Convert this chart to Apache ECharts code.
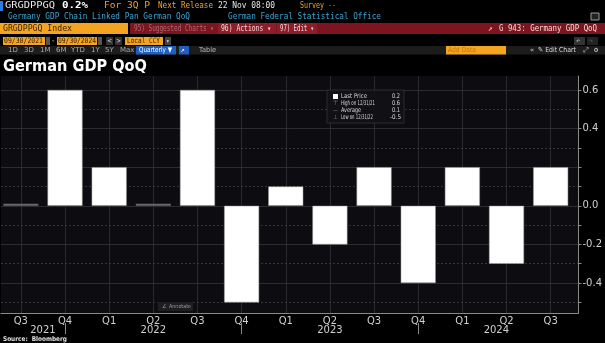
<!DOCTYPE html>
<html><head><meta charset="utf-8">
<script src="https://cdn.jsdelivr.net/npm/echarts@6/dist/echarts.min.js"></script>
<style>html,body{margin:0;padding:0;background:#000;}#c{width:605px;height:343px;}</style>
</head><body><div id="c"></div>
<script>
// ---- data ----
const quarters = ['Q3','Q4','Q1','Q2','Q3','Q4','Q1','Q2','Q3','Q4','Q1','Q2','Q3'];
const gdpQoQ   = [0.0, 0.6, 0.2, 0.0, 0.6, -0.5, 0.1, -0.2, 0.2, -0.4, 0.2, -0.3, 0.2];
const years    = ['2021','2022','2023','2024'];
const yearPos  = [0.5, 3, 7, 10.77];
const yearBreaks = [1, 5, 9];
const yMajor   = [-0.4, -0.2, 0, 0.2, 0.4, 0.6];
const yMinor   = [-0.5, -0.3, -0.1, 0.1, 0.3, 0.5];

const yMin = -0.555, yMax = 0.672, xMin = -0.45, xMax = 12.63;

const chart = echarts.init(document.getElementById('c'), null, {renderer:'canvas'});
const mono = 'DejaVu Sans Mono';
const sans = 'DejaVu Sans';
const mctx = document.createElement('canvas').getContext('2d');
function T(x,y,text,fill,size,opts){
  opts = opts||{};
  const font = (opts.bold?'bold ':'')+size+'px '+(opts.family||mono);
  let sx = 1;
  if (opts.w){ mctx.font = font; sx = opts.w / mctx.measureText(text).width; }
  const align = opts.align||'left';
  return {type:'text', x:x, y:y, z:100, scaleX:sx, style:{text:text, fill:fill, font:font,
    verticalAlign:'middle', align:align}};
}
function R(x,y,w,h,fill,stroke){
  return {type:'rect', z:99, shape:{x:x,y:y,width:w,height:h}, style:{fill:fill, stroke:stroke||null, lineWidth:stroke?1:0}};
}
const orange = '#f0a030', cyan = '#3aa6d4';
const last = gdpQoQ.length - 1;
const lastLabel = gdpQoQ[last].toFixed(1);

const graphics = [
  // row 1
  R(0,1,3,10,'#2b7fe0'),
  T(5,6,'GRGDPPGQ','#e8e8e8',9.5,{w:50}),
  T(62,6,'0.2%','#ffffff',9.5,{bold:true,w:26}),
  T(104,6,'For 3Q P',orange,9,{w:46}),
  T(158,6,'Next Release',orange,9,{w:55}),
  T(218,6,'22 Nov 08:00','#e8e8e8',9,{w:57}),
  T(300,6,'Survey --',orange,9,{w:36}),
  // row 2
  T(8,17,'Germany GDP Chain Linked Pan German QoQ',cyan,8.5,{w:182}),
  T(228,17,'German Federal Statistical Office',cyan,8.5,{w:153}),
  R(591,13,8,7,'#222','#999'),
  // row 3
  R(0,23,128,11,'#f5a422'),
  T(3,28.5,'GRGDPPGQ Index','#3a2200',9,{w:69}),
  R(130,23,475,11,'#7d1520'),
  T(134,28.5,'95) Suggested Charts \u25be','#b06a70',8,{w:80}),
  R(218,23,58,11,'#8f1d29'),
  T(221,28.5,'96) Actions \u25be','#f2dada',8,{w:50}),
  R(277,23,40,11,'#8f1d29'),
  T(280,28.5,'97) Edit \u25be','#f2dada',8,{w:34}),
  T(488,28.5,'\u2197','#f2dada',8),
  T(499,28.5,'G 943: Germany GDP QoQ','#f2dada',8,{w:98}),
  // row 4
  R(3,37,42,8,'#f5a422'), T(4,41,'09/30/2021','#3a2200',7.5,{w:39}),
  R(46,37,4,8,'#555'),
  T(51,41,'-','#ccc',7.5),
  R(57,37,40,8,'#f5a422'), T(58,41,'09/30/2024','#3a2200',7.5,{w:38}),
  R(98,37,4,8,'#555'),
  R(106,37,7,8,'#333'), T(107.5,41,'<','#ddd',7),
  R(115,37,7,8,'#333'), T(116.5,41,'>','#ddd',7),
  R(125,37,38,8,'#f5a422'), T(127,41,'Local CCY','#3a2200',7.5,{w:33}),
  R(165,37,6,8,'#444'), T(166,41,'\u25be','#ddd',6),
  R(574,37,11,8,'#333'), T(576,41,'\u21b6','#ccc',7),
  R(587,37,11,8,'#222'), T(589,41,'\u21b7','#666',7),
  // row 5
  R(0,46,605,8.5,'#1c1c1c'),
  T(8,50,'1D','#aaa',7,{family:sans}), T(24,50,'3D','#aaa',7,{family:sans}), T(40,50,'1M','#aaa',7,{family:sans}),
  T(56,50,'6M','#aaa',7,{family:sans}), T(71,50,'YTD','#aaa',7,{family:sans}), T(91,50,'1Y','#aaa',7,{family:sans}),
  T(105,50,'5Y','#aaa',7,{family:sans}), T(120,50,'Max','#aaa',7,{family:sans}),
  R(136,46,40,8.5,'#1f5fc0'), T(139,50,'Quarterly \u25bc','#ffffff',7,{family:sans,w:33}),
  R(179,46,10,8.5,'#1f5fc0'), T(180.5,50,'\u2197','#fff',7),
  T(199,50,'Table','#bbb',7,{family:sans,w:17}),
  R(446,46,60,8.5,'#f5a422'), T(448,50,'Add Data','#c27a10',7,{family:sans,w:28}),
  T(530,50,'\u00ab','#ccc',7),
  T(538,50,'\u270e Edit Chart','#ddd',7,{family:sans,w:38}),
  T(583,50,'\u2922','#ccc',7), T(594,50,'\u2699','#ccc',7),
  // title
  T(3,67,'German GDP QoQ','#ffffff',15.5,{bold:true,family:sans,w:144}),
  // legend box
  R(327,90,77,33,'rgba(18,18,22,0.95)','#2c2c30'),
  R(333,94,5,5,'#ffffff'),
  T(341,96.7,'Last Price','#d8d8d8',6.5,{family:sans,w:26}),
  T(392,96.7,'0.2','#d8d8d8',6.5,{family:sans,w:8}),
  T(333,103.8,'\u22a4','#888',6,{family:sans}),
  T(341,103.8,'High on 12/31/21','#d8d8d8',6.5,{family:sans,w:34}),
  T(392,103.8,'0.6','#d8d8d8',6.5,{family:sans,w:8}),
  T(333,110.6,'\u2014','#888',5,{family:sans}),
  T(341,110.6,'Average','#d8d8d8',6.5,{family:sans,w:20}),
  T(392,110.6,'0.1','#d8d8d8',6.5,{family:sans,w:8}),
  T(333,117.3,'\u22a5','#888',6,{family:sans}),
  T(341,117.3,'Low on 12/31/22','#d8d8d8',6.5,{family:sans,w:32}),
  T(390,117.3,'-0.5','#d8d8d8',6.5,{family:sans,w:11}),
  // annotate button
  R(158,302,35,9,'#1e1e22'),
  T(162,306.5,'\u2220','#999',5.5,{family:sans}),
  T(169,306.5,'Annotate','#999',5.5,{family:sans,w:22}),
  // footer
  T(3,339,'Source:  Bloomberg','#e0e0e0',6.5,{bold:true,family:sans,w:64})
];

const gridLines = [];
quarters.forEach((q,i)=>gridLines.push([
  {coord:[i, yMin], lineStyle:{color:'#29292e', width:1, type:'solid'}},
  {coord:[i, yMax]}
]));
yMajor.forEach(v=>gridLines.push([
  {coord:[xMin, v], lineStyle:{color:'#2c2c31', width:1, type:'solid'}},
  {coord:[xMax, v]}
]));
yMinor.forEach(v=>gridLines.push([
  {coord:[xMin, v], lineStyle:{color:'#34343a', width:1, type:[2,2]}},
  {coord:[xMax, v]}
]));

chart.setOption({
  backgroundColor:'#000',
  animation:false,
  grid:{left:1, right:26, top:76, bottom:30, show:true, backgroundColor:'#0c0c11', borderWidth:0},
  xAxis:[{
    type:'value', min:xMin, max:xMax, position:'bottom',
    axisLine:{show:true, onZero:false, lineStyle:{color:'#8a8a8a', width:1}},
    axisTick:{show:false},
    splitLine:{show:false},
    axisLabel:{customValues:quarters.map((q,i)=>i), formatter:v=>quarters[v], color:'#d0d0d0',
      fontSize:10, fontFamily:sans, margin:3}
  },{
    type:'value', min:xMin, max:xMax, position:'bottom', offset:10,
    axisLine:{show:false, onZero:false},
    axisTick:{show:true, customValues:yearBreaks, length:11, lineStyle:{color:'#8a8a8a'}},
    splitLine:{show:false},
    axisLabel:{customValues:yearPos, formatter:v=>years[yearPos.indexOf(v)], color:'#d0d0d0',
      fontSize:10, fontFamily:sans, margin:2}
  }],
  yAxis:{
    type:'value', position:'right', min:yMin, max:yMax,
    axisLine:{show:true, onZero:false, lineStyle:{color:'#8a8a8a'}},
    axisTick:{show:true, customValues:yMajor.concat(yMinor), length:3, lineStyle:{color:'#8a8a8a'}},
    splitLine:{show:false},
    axisLabel:{customValues:yMajor.filter(v=>v!==gdpQoQ[last]), formatter:v=>v.toFixed(1),
      color:'#d0d0d0', fontSize:10, fontFamily:sans, margin:4}
  },
  series:[{
    type:'line', data:[], z:1, silent:true,
    markLine:{silent:true, z:0, symbol:'none', label:{show:false}, data:gridLines, animation:false}
  },{
    type:'bar', xAxisIndex:0, z:3, barWidth:35, barMinHeight:2,
    itemStyle:{color:'#ffffff', borderColor:'#9a9a9a', borderWidth:0.5},
    data:gdpQoQ.map((v,i)=>v===0?{value:[i,v], itemStyle:{color:'#6a6a6e', borderWidth:0}}:{value:[i,v]}),
    markLine:{silent:true, symbol:'none', data:[{yAxis:gdpQoQ[last]}],
      lineStyle:{opacity:0},
      label:{show:true, position:'end', formatter:lastLabel, distance:6, color:'#000', backgroundColor:'#fff',
        padding:[1,3,1,3], fontSize:10, fontFamily:sans}}
  }],
  graphic:graphics
});
</script></body></html>
